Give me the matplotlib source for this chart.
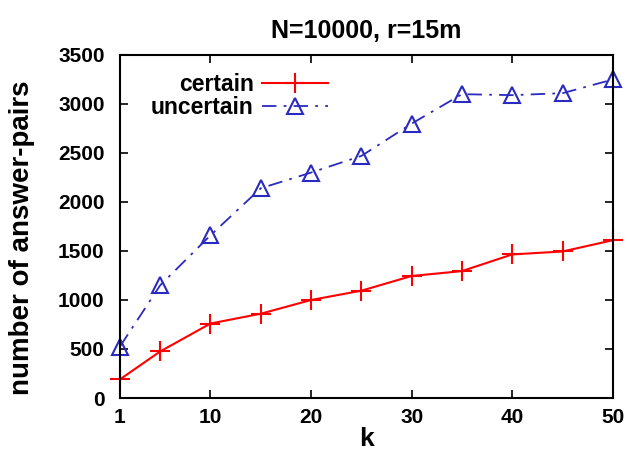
import matplotlib
matplotlib.use('Agg')
import matplotlib.pyplot as plt

# data
k = [1, 5, 10, 15, 20, 25, 30, 35, 40, 45, 50]
certain = [190, 475, 760, 860, 1000, 1095, 1245, 1295, 1465, 1495, 1610]
uncertain = [525, 1150, 1660, 2140, 2300, 2470, 2800, 3100, 3090, 3110, 3250]
xticks = [1, 10, 20, 30, 40, 50]
yticks = [0, 500, 1000, 1500, 2000, 2500, 3000, 3500]

plt.rcParams['font.family'] = ['Liberation Sans', 'DejaVu Sans']
plt.rcParams['font.weight'] = 'bold'
plt.rcParams['font.size'] = 15

fig = plt.figure(figsize=(6.28, 4.58), dpi=100)
ax = fig.add_axes([0.191, 0.131, 0.785, 0.749])

ax.plot(k, certain, color='#ff0000', lw=1.5, marker='+', ms=14, mew=1.5,
        label='certain', clip_on=False)
ax.plot(k, uncertain, color='#2a2ac0', lw=1.3, marker='^', ms=11, mew=1.5,
        mfc='none', dashes=(8, 4, 1.5, 4), label='uncertain', clip_on=False)

ax.set_xlim(1, 50)
ax.set_ylim(0, 3500)
ax.set_xticks(xticks)
ax.set_yticks(yticks)
ax.tick_params(direction='in', top=True, right=True, length=6, width=1.2)
ax.tick_params(axis='x', pad=7)
ax.tick_params(axis='y', pad=11)
for s in ax.spines.values():
    s.set_linewidth(1.5)

ax.set_title('N=10000, r=15m', fontweight='bold', pad=12)
ax.set_xlabel('k', fontweight='bold', fontsize=19, labelpad=0)
ax.set_ylabel('number of answer-pairs', fontweight='bold', fontsize=20)
ax.yaxis.set_label_coords(-0.172, 0.466)

leg = ax.legend(loc='upper right', bbox_to_anchor=(0.422, 0.948), frameon=False,
                markerfirst=False, handlelength=2.9, handletextpad=0.35,
                labelspacing=0.0, borderaxespad=0.0, borderpad=0.0, fontsize=16.5)
for t in leg.get_texts():
    t.set_ha('right')
leg._legend_box.align = 'right'

plt.savefig('out.png', dpi=100)
